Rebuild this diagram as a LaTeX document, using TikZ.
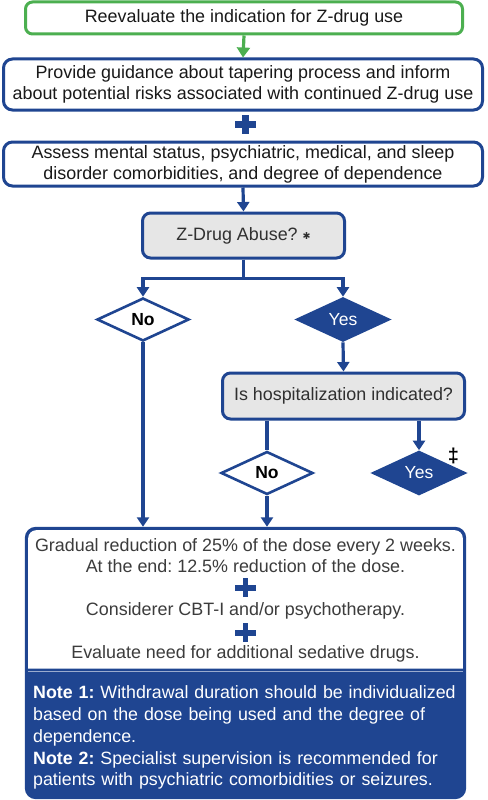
\documentclass[tikz,border=0pt]{standalone}
\usepackage{fontspec}
\setmainfont{Liberation Sans}
\newfontfamily\dejavu{DejaVu Sans}
\usetikzlibrary{shapes.geometric,arrows.meta}
\definecolor{zblue}{RGB}{31,69,145}
\definecolor{zgreen}{RGB}{76,175,80}
\definecolor{zgray}{RGB}{230,230,230}
\definecolor{ztext}{RGB}{25,25,25}
\definecolor{zgtext}{RGB}{60,60,60}
\frenchspacing
\tikzset{
  base/.style={font=\fontsize{17.9}{21}\selectfont, text=ztext, align=center, inner sep=0pt},
  bbox/.style={base, draw=zblue, line width=3pt, rounded corners=9pt, fill=white},
  gbox/.style={base, draw=zgreen, line width=3pt, rounded corners=7pt, fill=white},
  qbox/.style={base, draw=zblue, line width=3pt, rounded corners=8pt, fill=zgray},
  dmd/.style={diamond, aspect=2.15, draw=zblue, line width=2.6pt, inner sep=0pt,
     minimum width=92pt, minimum height=43pt, font=\fontsize{17.5}{20}\selectfont\bfseries},
  dno/.style={dmd, fill=white, text=black},
  dyes/.style={dmd, fill=zblue, text=white, font=\fontsize{17.5}{20}\selectfont},
  conn/.style={draw=zblue, line width=3.2pt},
  arr/.style={conn, -{Triangle[width=12pt,length=9.5pt]}},
  garr/.style={draw=zgreen, line width=3.2pt, -{Triangle[width=13pt,length=10pt]}},
}
\begin{document}
\begin{tikzpicture}[x=1pt,y=-1pt]
\useasboundingbox (0,0) rectangle (487,800);

\node[gbox, minimum width=437pt, minimum height=32pt] (n1) at (244,18) {Reevaluate the indication for Z-drug use};
\node[bbox, minimum width=479pt, minimum height=51pt] (n2) at (243,84.5) {Provide guidance about tapering process and inform\\about potential risks associated with continued Z-drug use};
\fill[zblue] (234.5,120.5) rectangle (256,127.5);
\fill[zblue] (241.8,114.5) rectangle (248.7,133.5);
\node[bbox, minimum width=479pt, minimum height=44pt] (n3) at (243,164) {Assess mental status, psychiatric, medical, and sleep\\disorder comorbidities, and degree of dependence};

\node[qbox, minimum width=202pt, minimum height=45pt, text=zgtext!80!black] (zq) at (243.5,235.5) {Z-Drug Abuse? {\dejavu\fontsize{9.5}{9.5}\selectfont\raisebox{1pt}{✱}}};

\node[dno] (noA) at (143,319.5) {No};
\node[dyes] (yesA) at (343,319.5) {Yes};

\node[qbox, minimum width=242pt, minimum height=46pt, text=zgtext!80!black] (hosp) at (343.5,396) {Is hospitalization indicated?};

\node[dno] (noB) at (267,473) {No};
\node[dyes] (yesB) at (419,473) {Yes};
\node[base, font=\fontsize{20}{20}\selectfont\bfseries, text=black] (dag) at (453.5,456) {‡};

% final box
\node[minimum width=441pt, minimum height=272pt, inner sep=0pt] (fin) at (245.5,663) {};
\fill[zblue, rounded corners=11pt] (fin.north west) rectangle (fin.south east);
\fill[white] (28.2,668.5) {[rounded corners=8pt] -- (28.2,530.2) -- (462.8,530.2)} -- (462.8,668.5) -- cycle;
\draw[zblue!45!white, line width=0.8pt] (28,671.2) -- (463,671.2);

\node[base, text=zgtext] (t1) at (245.5,556) {Gradual reduction of 25\% of the dose every 2 weeks.\\At the end: 12.5\% reduction of the dose.};
\fill[zblue] (235,585) rectangle (256,590.5);
\fill[zblue] (242.8,578) rectangle (248.2,597);
\node[base, text=zgtext] (t2) at (245.5,610.5) {Considerer CBT-I and/or psychotherapy.};
\fill[zblue] (235,630) rectangle (256,635.5);
\fill[zblue] (242.8,623) rectangle (248.2,642);
\node[base, text=zgtext] (t3) at (245.5,654) {Evaluate need for additional sedative drugs.};

\node[base, text=white, align=left, anchor=north west, text width=440pt, font=\fontsize{17.8}{21.8}\selectfont] (note) at (33,685.5) {\textbf{Note 1:} Withdrawal duration should be individualized\\based on the dose being used and the degree of\\dependence.\\\textbf{Note 2:} Specialist supervision is recommended for\\patients with psychiatric comorbidities or seizures.};

% connectors
\draw[garr] (n1.south) -- (n2.north);
\draw[arr] (n3.south) -- (zq.north);
\draw[arr] (zq.south) -- ++(0,19) -| (noA.north);
\draw[arr] (zq.south) -- ++(0,19) -| (yesA.north);
\draw[arr] (yesA.south) -- (hosp.north);
\draw[conn] (hosp.south -| noB.north) -- (noB.north);
\draw[arr] (hosp.south -| yesB.north) -- (yesB.north);
\draw[arr] (noA.south) -- (noA.south |- fin.north);
\draw[arr] (noB.south) -- (noB.south |- fin.north);
\end{tikzpicture}
\end{document}
